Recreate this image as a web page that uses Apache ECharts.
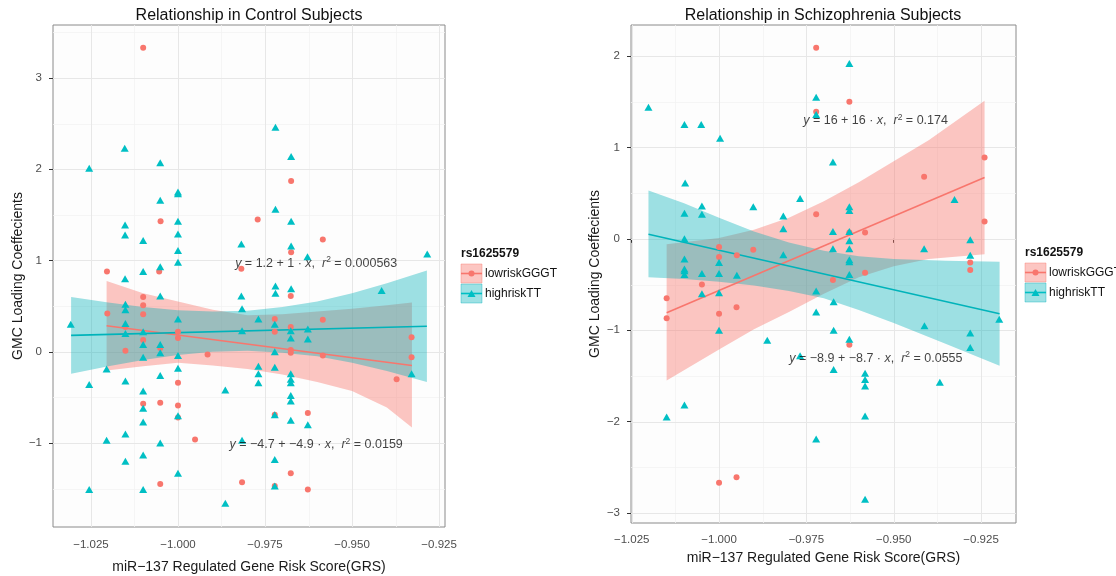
<!DOCTYPE html>
<html>
<head>
<meta charset="utf-8">
<script src="https://cdn.jsdelivr.net/npm/echarts@6/dist/echarts.min.js"></script>
<style>
html,body{margin:0;padding:0;background:#ffffff;}
#chart{width:1116px;height:576px;}
</style>
</head>
<body>
<div id="chart"></div>
<script>
// ---------------- DATA ----------------
const panelTitles = ['Relationship in Control Subjects', 'Relationship in Schizophrenia Subjects'];
const xAxisTitle = 'miR\u2212137 Regulated Gene Risk Score(GRS)';
const yAxisTitle = 'GMC Loading Coeffecients';
const legendTitle = 'rs1625579';
const groupNames = ['lowriskGGGT', 'highriskTT'];

const xTicks = [-1.025, -1.000, -0.975, -0.950, -0.925];
const xMinor = [-1.0125, -0.9875, -0.9625, -0.9375];
const ctrlYTicks = [-1, 0, 1, 2, 3];
const ctrlYMinor = [-1.5, -0.5, 0.5, 1.5, 2.5, 3.5];
const schzYTicks = [-3, -2, -1, 0, 1, 2];
const schzYMinor = [-2.5, -1.5, -0.5, 0.5, 1.5];

// Control subjects: lowriskGGGT points
const ctrlLowPts = [[-1.010,3.33],[-1.005,1.43],[-1.0204,0.88],[-1.0054,0.88],[-0.9818,0.91],[-0.9771,1.45],[-0.9675,1.87],[-0.9675,1.09],[-0.9584,1.23],[-1.010,0.60],[-0.9676,0.61],[-1.0203,0.42],[-1.0151,0.27],[-1.0151,0.01],[-1.010,0.51],[-1.010,0.41],[-1.010,0.13],[-1.0051,0.04],[-1.0051,-0.56],[-1.0051,-1.45],[-1.0,0.22],[-1.0,0.15],[-1.0,-0.34],[-1.0,-0.59],[-1.0,-0.72],[-1.010,-0.57],[-0.9915,-0.03],[-0.9951,-0.96],[-0.9816,-1.43],[-0.9722,0.36],[-0.9722,0.22],[-0.9722,-0.69],[-0.9722,-1.47],[-0.9676,0.27],[-0.9676,0.02],[-0.9676,-0.01],[-0.9676,-1.33],[-0.9627,-0.67],[-0.9627,-1.51],[-0.9584,0.35],[-0.9584,-0.04],[-0.9372,-0.30],[-0.9329,0.16],[-0.9329,-0.06]];
// Control subjects: highriskTT points
const ctrlHighPts = [[-1.0255,2.01],[-1.0153,2.23],[-1.0051,2.07],[-1.0051,1.66],[-1.0,1.75],[-1.0,1.73],[-1.0,1.43],[-1.0,1.29],[-1.0,1.11],[-1.0,0.98],[-1.0152,1.39],[-1.0152,1.28],[-1.010,1.22],[-1.010,0.88],[-1.0152,0.80],[-1.0051,0.93],[-0.9818,1.18],[-0.972,2.46],[-0.972,1.56],[-0.9675,2.14],[-0.9675,1.43],[-0.9675,1.16],[-0.9628,1.04],[-0.9284,1.07],[-0.972,0.72],[-0.972,0.64],[-0.9675,0.69],[-0.9415,0.67],[-0.9818,0.61],[-1.0051,0.61],[-1.0308,0.30],[-1.0151,0.52],[-1.0151,0.46],[-1.0151,0.31],[-1.0151,0.20],[-1.0205,-0.19],[-1.0255,-0.36],[-1.0151,-0.32],[-1.010,0.22],[-1.010,0.08],[-1.010,-0.06],[-1.010,-0.43],[-1.010,-0.62],[-1.010,-0.77],[-1.010,-1.13],[-1.010,-1.51],[-1.0151,-0.90],[-1.0151,-1.20],[-1.0205,-0.97],[-1.0255,-1.51],[-1.0051,0.08],[-1.0051,-0.01],[-1.0051,-0.26],[-1.0051,-1.00],[-1.0,0.36],[-1.0,-0.04],[-1.0,-0.18],[-1.0,-0.70],[-1.0,-1.33],[-0.9864,-0.42],[-0.9864,-1.66],[-0.9816,0.47],[-0.9816,0.23],[-0.9816,-0.97],[-0.9769,0.36],[-0.9769,-0.16],[-0.9769,-0.24],[-0.9769,-0.34],[-0.9722,0.30],[-0.9722,0.00],[-0.9722,-0.17],[-0.9722,-0.69],[-0.9722,-1.18],[-0.9722,-1.47],[-0.9676,0.23],[-0.9676,0.15],[-0.9676,-0.24],[-0.9676,-0.30],[-0.9676,-0.34],[-0.9676,-0.48],[-0.9676,-0.54],[-0.9676,-0.75],[-0.9627,0.25],[-0.9627,0.14],[-0.9627,-0.80],[-0.9329,-0.24]];
// Schizophrenia subjects: lowriskGGGT points
const schzLowPts = [[-0.9722,2.09],[-0.9722,1.39],[-0.9722,0.27],[-1.0,-0.09],[-0.9902,-0.12],[-0.9949,-0.18],[-1.0,-0.20],[-0.9674,-0.45],[-1.0049,-0.50],[-1.015,-0.65],[-1.015,-0.87],[-1.0,-0.82],[-0.995,-0.75],[-1.0,-2.67],[-0.995,-2.61],[-0.9627,1.50],[-0.924,0.89],[-0.9413,0.68],[-0.924,0.19],[-0.9627,0.07],[-0.9582,0.07],[-0.9281,-0.26],[-0.9281,-0.34],[-0.9582,-0.37],[-0.9627,-1.16]];
// Schizophrenia subjects: highriskTT points
const schzHighPts = [[-1.0202,1.44],[-0.9722,1.55],[-0.9722,1.36],[-1.0099,1.25],[-1.0051,1.25],[-0.9997,1.10],[-0.9674,0.84],[-1.0097,0.61],[-0.9768,0.44],[-1.0049,0.36],[-1.0049,0.27],[-1.0099,0.28],[-0.9902,0.35],[-0.9816,0.25],[-0.9816,0.11],[-0.9674,0.08],[-1.0099,0.00],[-0.9674,-0.11],[-0.9816,-0.175],[-1.0099,-0.22],[-1.0,-0.26],[-1.0099,-0.33],[-1.0099,-0.35],[-1.0099,-0.39],[-1.0049,-0.38],[-1.0,-0.38],[-0.9949,-0.40],[-1.0049,-0.60],[-1.0,-0.59],[-0.9722,-0.57],[-0.9627,1.92],[-0.9326,0.43],[-0.9627,0.35],[-0.9627,0.31],[-0.9627,0.08],[-0.9627,-0.02],[-0.9281,-0.01],[-0.9627,-0.11],[-0.9413,-0.11],[-0.9627,-0.23],[-0.9627,-0.25],[-0.9281,-0.18],[-0.9627,-0.39],[-1.0099,-1.82],[-1.015,-1.95],[-1.0,-1.0],[-0.9862,-1.11],[-0.9768,-1.28],[-0.9672,-0.69],[-0.9722,-0.80],[-0.9672,-1.00],[-0.9672,-1.43],[-0.9722,-2.19],[-0.9627,-1.10],[-0.9582,-1.47],[-0.9582,-1.54],[-0.9582,-1.61],[-0.9582,-1.94],[-0.9582,-2.85],[-0.9412,-0.95],[-0.9368,-1.57],[-0.9281,-1.03],[-0.9281,-1.19],[-0.9198,-0.88]];

// Fitted lines (endpoints)
const ctrlLowFit = [[-1.0205, 0.285], [-0.9328, -0.15]];
const ctrlHighFit = [[-1.0307, 0.18], [-0.9285, 0.28]];
const schzLowFit = [[-1.015, -0.81], [-0.924, 0.67]];
const schzHighFit = [[-1.0202, 0.05], [-0.9197, -0.82]];

// Confidence bands
const ctrlLowBandX = [-1.0205, -1.01, -1.0, -0.99, -0.98, -0.97, -0.96, -0.95, -0.94, -0.9328];
const ctrlLowBandLo = [-0.205, -0.16, -0.12, -0.15, -0.19, -0.25, -0.33, -0.43, -0.61, -0.83];
const ctrlLowBandHi = [0.775, 0.64, 0.55, 0.46, 0.40, 0.41, 0.44, 0.47, 0.51, 0.54];
const ctrlHighBandX = [-1.0307, -1.02, -1.01, -1.0, -0.99, -0.98, -0.97, -0.96, -0.95, -0.94, -0.9285];
const ctrlHighBandLo = [-0.24, -0.16, -0.09, -0.035, 0.00, 0.01, -0.01, -0.05, -0.12, -0.21, -0.33];
const ctrlHighBandHi = [0.60, 0.54, 0.49, 0.455, 0.44, 0.45, 0.49, 0.55, 0.64, 0.75, 0.89];
const schzLowBandX = [-1.015, -1.0, -0.99, -0.98, -0.97, -0.96, -0.95, -0.94, -0.924];
const schzLowBandLo = [-1.55, -1.21, -0.99, -0.80, -0.60, -0.42, -0.30, -0.22, -0.17];
const schzLowBandHi = [-0.06, 0.01, 0.10, 0.23, 0.41, 0.62, 0.85, 1.08, 1.51];
const schzHighBandX = [-1.0202, -1.01, -1.0, -0.99, -0.98, -0.97, -0.96, -0.95, -0.935, -0.9197];
const schzHighBandLo = [-0.42, -0.44, -0.47, -0.51, -0.57, -0.65, -0.78, -0.92, -1.15, -1.39];
const schzHighBandHi = [0.53, 0.39, 0.23, 0.08, -0.04, -0.13, -0.19, -0.22, -0.24, -0.25];

// Equation annotations
const ctrlHighEq = '{i|y} = 1.2 + 1 \u00b7 {i|x},  {i|r}{s|2} = 0.000563';
const ctrlLowEq = '{i|y} = \u22124.7 + \u22124.9 \u00b7 {i|x},  {i|r}{s|2} = 0.0159';
const schzLowEq = '{i|y} = 16 + 16 \u00b7 {i|x},  {i|r}{s|2} = 0.174';
const schzHighEq = '{i|y} = \u22128.9 + \u22128.7 \u00b7 {i|x},  {i|r}{s|2} = 0.0555';
const ctrlHighEqAt = [-0.9603, 0.97];
const ctrlLowEqAt = [-0.9603, -1.02];
const schzLowEqAt = [-0.9552, 1.29];
const schzHighEqAt = [-0.9551, -1.31];

// ---------------- STYLE ----------------
const FONT = '"Liberation Sans", Arial, Helvetica, sans-serif';
const RED = '#F8766D';
const TEAL = '#00BFC4';
const RED_BAND = 'rgba(248,118,109,0.42)';
const TEAL_BAND = 'rgba(0,175,185,0.38)';
const fmtMinus = v => String(v).replace('-', '\u2212');

const chart = echarts.init(document.getElementById('chart'), null, {renderer: 'canvas'});

function makeX(gi, min, max, labelMargin, nameGap) {
  return {
    type: 'value', gridIndex: gi, min: min, max: max,
    splitLine: {show: false},
    axisLine: {show: false},
    axisTick: {show: true, customValues: xTicks, length: 4, lineStyle: {color: '#333', width: 1}},
    axisLabel: {customValues: xTicks, margin: labelMargin, color: '#4d4d4d', fontSize: 11.5, fontFamily: FONT,
      formatter: v => fmtMinus(v.toFixed(3))},
    name: xAxisTitle, nameLocation: 'middle', nameGap: nameGap,
    nameTextStyle: {fontSize: 14, color: '#1a1a1a', fontFamily: FONT}
  };
}
function makeY(gi, min, max, ticks, labelMargin, nameGap) {
  return {
    type: 'value', gridIndex: gi, min: min, max: max,
    splitLine: {show: false},
    axisLine: {show: false},
    axisTick: {show: true, customValues: ticks, length: 4, lineStyle: {color: '#333', width: 1}},
    axisLabel: {customValues: ticks, margin: labelMargin, color: '#4d4d4d', fontSize: 11.5, fontFamily: FONT,
      formatter: v => fmtMinus(String(v))},
    name: yAxisTitle, nameLocation: 'middle', nameGap: nameGap,
    nameTextStyle: {fontSize: 14, color: '#1a1a1a', fontFamily: FONT}
  };
}

function gridLines(gi, vals, major, vertical, refOther) {
  return {
    type: 'custom', xAxisIndex: gi, yAxisIndex: gi, silent: true, clip: true, z: 1,
    data: vals.map(v => vertical ? [v, refOther] : [refOther, v]),
    encode: {x: 0, y: 1},
    renderItem: function (params, api) {
      const cs = params.coordSys;
      const p = api.coord([api.value(0), api.value(1)]);
      const style = {stroke: major ? '#e7e7e7' : '#f3f3f3', lineWidth: major ? 1 : 0.8};
      if (vertical) {
        const x = Math.round(p[0]) + 0.5;
        return {type: 'line', shape: {x1: x, y1: cs.y, x2: x, y2: cs.y + cs.height}, style: style};
      }
      const y = Math.round(p[1]) + 0.5;
      return {type: 'line', shape: {x1: cs.x, y1: y, x2: cs.x + cs.width, y2: y}, style: style};
    }
  };
}

function points(gi, pts, isTri) {
  return {
    type: 'scatter', xAxisIndex: gi, yAxisIndex: gi, data: pts, silent: true,
    symbol: isTri ? 'triangle' : 'circle',
    symbolSize: isTri ? [8, 7] : 6,
    itemStyle: {color: isTri ? TEAL : RED, opacity: 1},
    z: 2
  };
}

function band(gi, xs, lo, hi, color) {
  return {
    type: 'custom', xAxisIndex: gi, yAxisIndex: gi, silent: true, clip: true, z: 2,
    data: xs.map((x, i) => [x, lo[i], hi[i]]),
    encode: {x: 0, y: [1, 2]},
    renderItem: function (params, api) {
      if (params.dataIndex !== 0) return null;
      const pts = [];
      for (let i = 0; i < xs.length; i++) pts.push(api.coord([xs[i], hi[i]]));
      for (let i = xs.length - 1; i >= 0; i--) pts.push(api.coord([xs[i], lo[i]]));
      return {type: 'polygon', shape: {points: pts}, style: {fill: color}};
    }
  };
}

function fitLine(gi, pts, color) {
  return {
    type: 'line', xAxisIndex: gi, yAxisIndex: gi, data: pts, silent: true,
    showSymbol: false, symbol: 'none',
    lineStyle: {color: color, width: 1.6}, z: 2
  };
}

function eqLabel(gi, at, text) {
  return {
    type: 'scatter', xAxisIndex: gi, yAxisIndex: gi, data: [at], silent: true,
    symbol: 'circle', symbolSize: 1, itemStyle: {color: 'rgba(0,0,0,0)'}, z: 5,
    label: {
      show: true, position: 'inside', formatter: text,
      color: '#111', fontSize: 12.5, fontFamily: FONT,
      rich: {
        i: {fontStyle: 'italic', fontSize: 12.5, color: '#111', fontFamily: FONT},
        s: {fontSize: 8.5, color: '#111', fontFamily: FONT, verticalAlign: 'top', padding: [0, 0, 7, 0]}
      }
    }
  };
}

const ctrlX = [-1.0359, -0.9233], ctrlY = [-1.92, 3.58];
const schzX = [-1.0252, -0.915], schzY = [-3.11, 2.34];

const series = [
  gridLines(0, xMinor, false, true, 0), gridLines(0, ctrlYMinor, false, false, -1.0),
  gridLines(0, xTicks, true, true, 0), gridLines(0, ctrlYTicks, true, false, -1.0),
  gridLines(1, xMinor, false, true, 0), gridLines(1, schzYMinor, false, false, -1.0),
  gridLines(1, xTicks, true, true, 0), gridLines(1, schzYTicks, true, false, -1.0),
  points(0, ctrlLowPts, false), points(0, ctrlHighPts, true),
  points(1, schzLowPts, false), points(1, schzHighPts, true),
  band(0, ctrlLowBandX, ctrlLowBandLo, ctrlLowBandHi, RED_BAND), fitLine(0, ctrlLowFit, RED),
  band(0, ctrlHighBandX, ctrlHighBandLo, ctrlHighBandHi, TEAL_BAND), fitLine(0, ctrlHighFit, '#00B3BA'),
  band(1, schzLowBandX, schzLowBandLo, schzLowBandHi, RED_BAND), fitLine(1, schzLowFit, RED),
  band(1, schzHighBandX, schzHighBandLo, schzHighBandHi, TEAL_BAND), fitLine(1, schzHighFit, '#00B3BA'),
  eqLabel(0, ctrlHighEqAt, ctrlHighEq), eqLabel(0, ctrlLowEqAt, ctrlLowEq),
  eqLabel(1, schzLowEqAt, schzLowEq), eqLabel(1, schzHighEqAt, schzHighEq)
];

function legendGraphic(x, y) {
  const els = [];
  els.push({type: 'text', x: x, y: y, style: {text: legendTitle, font: 'bold 12px ' + FONT, fill: '#111', textVerticalAlign: 'middle', verticalAlign: 'middle'}});
  const keys = [{c: RED, band: RED_BAND, tri: false}, {c: TEAL, band: TEAL_BAND, tri: true}];
  keys.forEach((k, i) => {
    const ky = y + 10 + i * 20;
    els.push({type: 'rect', shape: {x: x, y: ky, width: 21, height: 19}, style: {fill: k.band, stroke: k.band, lineWidth: 1}});
    els.push({type: 'line', shape: {x1: x, y1: ky + 9.5, x2: x + 21, y2: ky + 9.5}, style: {stroke: k.c, lineWidth: 1.6}});
    if (k.tri) {
      els.push({type: 'polygon', shape: {points: [[x + 10.5, ky + 6], [x + 14.5, ky + 13], [x + 6.5, ky + 13]]}, style: {fill: k.c}});
    } else {
      els.push({type: 'circle', shape: {cx: x + 10.5, cy: ky + 9.5, r: 3}, style: {fill: k.c}});
    }
    els.push({type: 'text', x: x + 24, y: ky + 9.5, style: {text: groupNames[i], font: '12px ' + FONT, fill: '#111', textVerticalAlign: 'middle', verticalAlign: 'middle'}});
  });
  return els;
}

const option = {
  backgroundColor: '#ffffff',
  animation: false,
  grid: [
    {left: 53, top: 25, width: 392, height: 502, show: true, backgroundColor: '#fdfdfd', borderColor: '#8a8a8a', borderWidth: 1, containLabel: false, outerBoundsMode: 'none'},
    {left: 631, top: 25, width: 385, height: 498, show: true, backgroundColor: '#fdfdfd', borderColor: '#8a8a8a', borderWidth: 1, containLabel: false, outerBoundsMode: 'none'}
  ],
  xAxis: [makeX(0, ctrlX[0], ctrlX[1], 12, 33), makeX(1, schzX[0], schzX[1], 11, 28)],
  yAxis: [makeY(0, ctrlY[0], ctrlY[1], ctrlYTicks, 11, 28), makeY(1, schzY[0], schzY[1], schzYTicks, 11, 29)],
  series: series,
  graphic: [
    {type: 'text', x: 249, y: 16, style: {text: panelTitles[0], font: '16px ' + FONT, fill: '#111', textAlign: 'center', align: 'center', textVerticalAlign: 'middle', verticalAlign: 'middle'}},
    {type: 'text', x: 823, y: 16, style: {text: panelTitles[1], font: '16px ' + FONT, fill: '#111', textAlign: 'center', align: 'center', textVerticalAlign: 'middle', verticalAlign: 'middle'}}
  ].concat(legendGraphic(461, 254)).concat(legendGraphic(1025, 253))
};
chart.setOption(option);
</script>
</body>
</html>
